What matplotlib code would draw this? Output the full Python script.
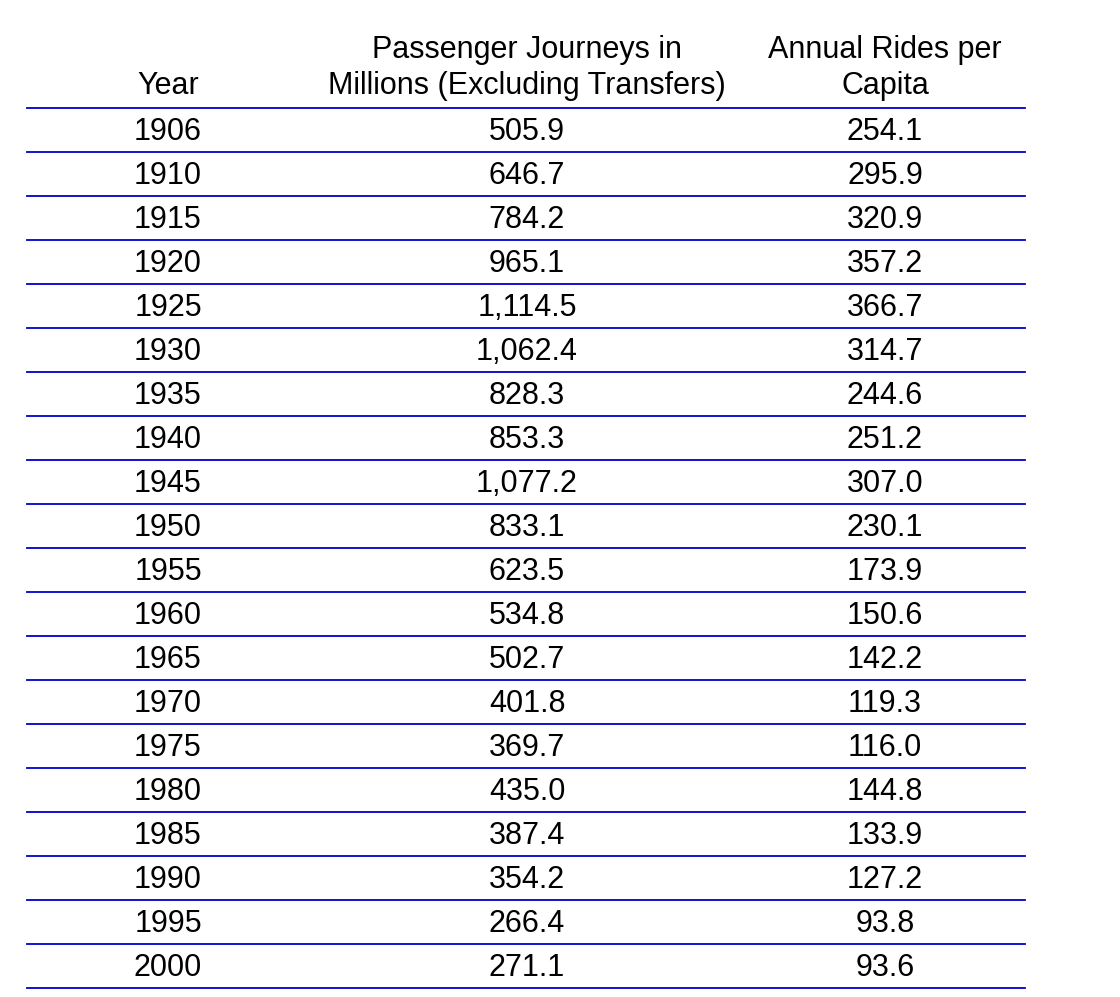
import matplotlib
matplotlib.use("Agg")
import matplotlib.pyplot as plt

headers = ["Year", "Passenger Journeys in\nMillions (Excluding Transfers)", "Annual Rides per\nCapita"]
years = ["1906", "1910", "1915", "1920", "1925", "1930", "1935", "1940", "1945", "1950",
         "1955", "1960", "1965", "1970", "1975", "1980", "1985", "1990", "1995", "2000"]
journeys = ["505.9", "646.7", "784.2", "965.1", "1,114.5", "1,062.4", "828.3", "853.3", "1,077.2", "833.1",
            "623.5", "534.8", "502.7", "401.8", "369.7", "435.0", "387.4", "354.2", "266.4", "271.1"]
per_capita = ["254.1", "295.9", "320.9", "357.2", "366.7", "314.7", "244.6", "251.2", "307.0", "230.1",
              "173.9", "150.6", "142.2", "119.3", "116.0", "144.8", "133.9", "127.2", "93.8", "93.6"]

plt.rcParams['font.family'] = ['Liberation Sans', 'DejaVu Sans']
fig = plt.figure(figsize=(11.2, 9.97), dpi=100)
ax = fig.add_axes([0, 0, 1, 1])
ax.set_xlim(0, 1120)
ax.set_ylim(997, 0)
ax.axis("off")

col_x = [168, 527, 885]
line_color = "#0000cc"
fs = 22

# header
for x, h in zip(col_x, headers):
    ax.text(x, 101, h, ha="center", va="bottom", fontsize=fs, linespacing=1.25)

top = 108
row_h = 44
ax.plot([27, 1025], [top, top], color=line_color, lw=1.3)
for i in range(len(years)):
    yc = top + row_h * i + row_h / 2 + 2
    for x, val in zip(col_x, [years[i], journeys[i], per_capita[i]]):
        ax.text(x, yc, val, ha="center", va="center", fontsize=fs)
    yl = top + row_h * (i + 1)
    ax.plot([27, 1025], [yl, yl], color=line_color, lw=1.3)

fig.savefig("out.png", dpi=100, facecolor="white")
